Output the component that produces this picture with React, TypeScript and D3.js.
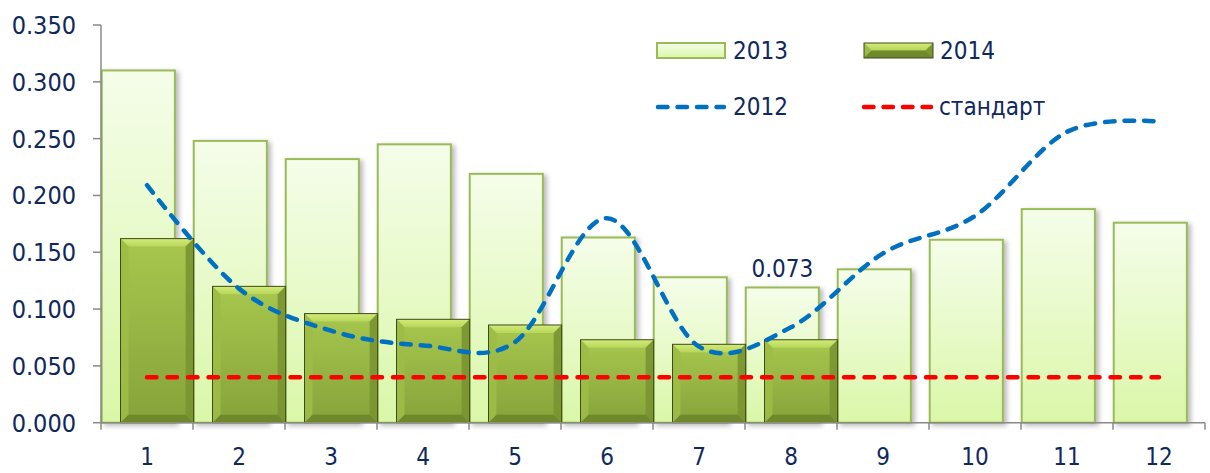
import React from "react";
import * as d3 from "d3";

const categories = ["1", "2", "3", "4", "5", "6", "7", "8", "9", "10", "11", "12"];
const values2013 = [0.310, 0.248, 0.232, 0.245, 0.219, 0.163, 0.128, 0.119, 0.135, 0.161, 0.188, 0.176];
const values2014 = [0.162, 0.120, 0.096, 0.091, 0.086, 0.073, 0.069, 0.073];
const values2012 = [0.209, 0.118, 0.081, 0.068, 0.071, 0.180, 0.067, 0.084, 0.149, 0.182, 0.256, 0.265];
const standardValue = 0.04;
const yTicks = [0, 0.05, 0.1, 0.15, 0.2, 0.25, 0.3, 0.35];
const labelIndex = 7;
const labelText = "0.073";

const W = 1210;
const H = 473;
const FONT = "'DejaVu Sans Condensed', 'DejaVu Sans', sans-serif";
const TXT = "#10285c";
const AXIS = "#8a8a8a";

export default function App() {
  const x = d3.scaleBand<string>().domain(categories).range([101, 1205]).padding(0);
  const y = d3.scaleLinear().domain([0, 0.35]).range([422.7, 25]);
  const bw = x.bandwidth();
  const barW = bw * 0.795;
  const off13 = bw * 0.008;
  const off14 = bw * 0.212;
  const cx = (c: string) => (x(c) as number) + bw / 2;

  const line = d3
    .line<number>()
    .x((_, i) => cx(categories[i]))
    .y((d) => y(d))
    .curve(d3.curveCardinal.tension(0));

  const stdLine = d3
    .line<number>()
    .x((_, i) => cx(categories[i]))
    .y((d) => y(d));

  const b = 8;
  const bevel = (bx: number, by: number, w: number, h: number, key: string) => {
    const bb = Math.min(b, h / 2);
    return (
      <g key={key}>
        <rect x={bx} y={by} width={w} height={h} fill="url(#g14)" />
        <polygon
          points={`${bx},${by} ${bx + w},${by} ${bx + w - bb},${by + bb} ${bx + bb},${by + bb}`}
          fill="url(#g14top)"
        />
        <polygon
          points={`${bx},${by} ${bx + bb},${by + bb} ${bx + bb},${by + h - bb} ${bx},${by + h}`}
          fill="#9dbd47"
          opacity={0.9}
        />
        <polygon
          points={`${bx + w},${by} ${bx + w},${by + h} ${bx + w - bb},${by + h - bb} ${bx + w - bb},${by + bb}`}
          fill="#7a9431"
          opacity={0.9}
        />
        <polygon
          points={`${bx},${by + h} ${bx + w},${by + h} ${bx + w - bb},${by + h - bb} ${bx + bb},${by + h - bb}`}
          fill="#6d852b"
          opacity={0.9}
        />
        <rect x={bx} y={by} width={w} height={h} fill="none" stroke="#3e4b1b" strokeWidth={1} />
      </g>
    );
  };

  return (
    <svg width={W} height={H} style={{ position: "absolute", left: 0, top: 0, background: "#fff" }}>
      <defs>
        <linearGradient id="g13" x1="0" y1="0" x2="0" y2="1">
          <stop offset="0" stopColor="#f5fdea" />
          <stop offset="1" stopColor="#daf7a8" />
        </linearGradient>
        <linearGradient id="g14" x1="0" y1="0" x2="0" y2="1">
          <stop offset="0" stopColor="#a7c74e" />
          <stop offset="1" stopColor="#86a33a" />
        </linearGradient>
        <linearGradient id="g14top" x1="0" y1="0" x2="0" y2="1">
          <stop offset="0" stopColor="#d3ec78" />
          <stop offset="1" stopColor="#b7d65a" />
        </linearGradient>
        <filter id="sh" x="-20%" y="-10%" width="140%" height="130%">
          <feDropShadow dx="3" dy="2" stdDeviation="2.5" floodColor="#000" floodOpacity="0.28" />
        </filter>
      </defs>

      {/* 2013 bars */}
      {values2013.map((v, i) => {
        const bx = (x(categories[i]) as number) + off13;
        return (
          <rect
            key={"b13" + i}
            x={bx}
            y={y(v)}
            width={barW}
            height={y(0) - y(v)}
            fill="url(#g13)"
            stroke="#9bbb59"
            strokeWidth={2}
            filter="url(#sh)"
          />
        );
      })}

      {/* 2014 bars */}
      {values2014.map((v, i) => {
        const bx = (x(categories[i]) as number) + off14;
        return bevel(bx, y(v), barW, y(0) - y(v), "b14" + i);
      })}

      {/* axes */}
      <line x1={101} x2={101} y1={y(0.35)} y2={y(0)} stroke={AXIS} strokeWidth={1.5} />
      {yTicks.map((t) => (
        <g key={"yt" + t}>
          <line x1={93} x2={101} y1={y(t)} y2={y(t)} stroke={AXIS} strokeWidth={1.5} />
          <text
            x={76}
            y={y(t)}
            dy="0.36em"
            textAnchor="end"
            fontFamily={FONT}
            fontSize={25}
            fill={TXT}
          >
            {d3.format(".3f")(t)}
          </text>
        </g>
      ))}
      <line x1={101} x2={1205} y1={y(0)} y2={y(0)} stroke={AXIS} strokeWidth={1.5} />
      {categories.map((c) => (
        <line
          key={"xt" + c}
          x1={x(c) as number}
          x2={x(c) as number}
          y1={y(0)}
          y2={y(0) + 7}
          stroke={AXIS}
          strokeWidth={1.5}
        />
      ))}
      <line x1={1205} x2={1205} y1={y(0)} y2={y(0) + 7} stroke={AXIS} strokeWidth={1.5} />
      {categories.map((c) => (
        <text
          key={"xl" + c}
          x={cx(c)}
          y={465}
          textAnchor="middle"
          fontFamily={FONT}
          fontSize={24}
          fill={TXT}
        >
          {c}
        </text>
      ))}

      {/* standard line */}
      <path
        d={stdLine(categories.map(() => standardValue)) || ""}
        fill="none"
        stroke="#ff0000"
        strokeWidth={4.5}
        strokeDasharray="9.5 11"
        strokeLinecap="round"
      />

      {/* 2012 line */}
      <path
        d={line(values2012) || ""}
        fill="none"
        stroke="#0070c0"
        strokeWidth={4.5}
        strokeDasharray="9.5 10"
        strokeLinecap="round"
      />

      {/* data label */}
      <text
        x={(x(categories[labelIndex]) as number) + off13 + barW / 2}
        y={277}
        textAnchor="middle"
        fontFamily={FONT}
        fontSize={24}
        fill={TXT}
      >
        {labelText}
      </text>

      {/* legend */}
      <rect x={657} y={43} width={68} height={15} fill="url(#g13)" stroke="#9bbb59" strokeWidth={2} />
      <text x={733} y={59} fontFamily={FONT} fontSize={24} fill={TXT}>2013</text>
      {bevel(864, 43, 69, 15, "leg14")}
      <text x={940} y={59} fontFamily={FONT} fontSize={24} fill={TXT}>2014</text>
      <line x1={658} x2={724} y1={107} y2={107} stroke="#0070c0" strokeWidth={4.5} strokeDasharray="9.5 10" strokeLinecap="round" />
      <text x={733} y={115} fontFamily={FONT} fontSize={24} fill={TXT}>2012</text>
      <line x1={864} x2={931} y1={107} y2={107} stroke="#ff0000" strokeWidth={4.5} strokeDasharray="9.5 10" strokeLinecap="round" />
      <text x={939} y={115} fontFamily={FONT} fontSize={24} fill={TXT}>стандарт</text>
    </svg>
  );
}
